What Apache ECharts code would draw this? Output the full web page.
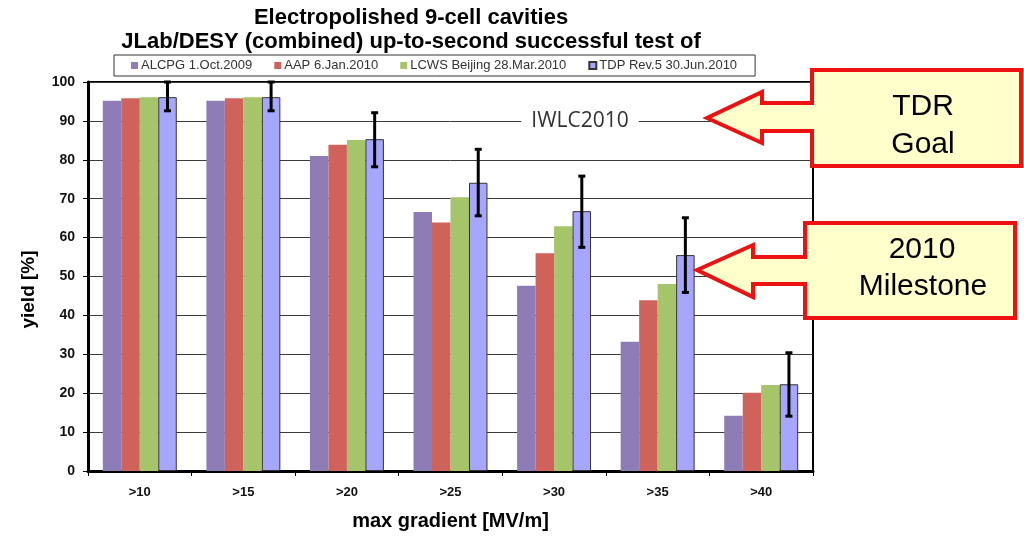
<!DOCTYPE html>
<html>
<head>
<meta charset="utf-8">
<title>Electropolished 9-cell cavities</title>
<script src="https://cdn.jsdelivr.net/npm/echarts@6/dist/echarts.min.js"></script>
<style>
  html, body { margin: 0; padding: 0; background: #fff; }
  #chart { width: 1024px; height: 539px; }
</style>
</head>
<body>
<div id="chart"></div>
<script>
// data
var categories = ['>10', '>15', '>20', '>25', '>30', '>35', '>40'];
var seriesNames = ['ALCPG 1.Oct.2009', 'AAP 6.Jan.2010', 'LCWS Beijing 28.Mar.2010', 'TDP Rev.5 30.Jun.2010'];
var alcpg = [95.2, 95.2, 81.0, 66.6, 47.6, 33.2, 14.2];
var aap   = [95.8, 95.8, 83.9, 63.9, 56.0, 43.9, 20.1];
var lcws  = [96.1, 96.1, 85.1, 70.4, 62.9, 48.1, 22.1];
var tdp   = [96.1, 96.1, 85.3, 74.1, 66.8, 55.5, 22.3];
var tdpLow  = [92.6, 92.6, 78.2, 65.6, 57.5, 45.9, 14.1];
var tdpHigh = [100, 100, 92.1, 82.7, 75.8, 65.1, 30.4];
var yTicks = [0, 10, 20, 30, 40, 50, 60, 70, 80, 90, 100];

var FONT = '"Liberation Sans", Arial, sans-serif';
var CAT_GAP = 0.286;

var myChart = echarts.init(document.getElementById('chart'), null, { renderer: 'canvas' });

var errData = categories.map(function (c, i) { return [i, tdpLow[i], tdpHigh[i]]; });

function barSeries(name, data, color, border) {
    return {
        name: name,
        type: 'bar',
        data: data,
        barGap: '0%',
        barCategoryGap: (CAT_GAP * 100) + '%',
        itemStyle: {
            color: color,
            borderColor: border ? '#333' : color,
            borderWidth: border ? 1 : 0
        },
        z: 2
    };
}

// callout shapes: box + left arrow in one outline
function callout(bx1, bx2, by1, by2, sy1, sy2, hx, hy1, hy2, tx, ty) {
    return {
        type: 'polygon',
        shape: {
            points: [[bx1, by1], [bx2, by1], [bx2, by2], [bx1, by2], [bx1, sy2], [hx, sy2],
                     [hx, hy2], [tx, ty], [hx, hy1], [hx, sy1], [bx1, sy1]]
        },
        style: { fill: '#FFFFCC', stroke: '#EE1111', lineWidth: 4, lineJoin: 'miter' },
        z: 100
    };
}

var option = {
    animation: false,
    backgroundColor: '#fff',
    title: {
        text: 'Electropolished 9-cell cavities\nJLab/DESY (combined) up-to-second successful test of',
        left: 406,
        top: 1,
        textAlign: 'center',
        textStyle: { fontFamily: FONT, fontSize: 22, fontWeight: 'bold', color: '#000', lineHeight: 24 }
    },
    legend: {
        data: seriesNames,
        left: 114,
        top: 55,
        padding: [4, 18, 4, 17],
        itemGap: 22,
        itemWidth: 7,
        itemHeight: 7,
        icon: 'rect',
        borderColor: '#333',
        borderWidth: 1,
        textStyle: { fontFamily: FONT, fontSize: 13, color: '#333', padding: [0, 0, 0, -2] }
    },
    grid: {
        left: 88,
        right: 211,
        top: 82,
        bottom: 68,
        show: true,
        borderColor: '#000',
        borderWidth: 2,
        containLabel: false
    },
    xAxis: {
        type: 'category',
        data: categories,
        name: 'max gradient [MV/m]',
        nameLocation: 'middle',
        nameGap: 40,
        nameTextStyle: { fontFamily: FONT, fontSize: 20, fontWeight: 'bold', color: '#000' },
        axisLine: { lineStyle: { color: '#000', width: 3 } },
        axisTick: { show: true, length: 5, lineStyle: { color: '#000', width: 1 } },
        axisLabel: { fontFamily: FONT, fontSize: 13, fontWeight: 'bold', color: '#111', margin: 15 }
    },
    yAxis: {
        type: 'value',
        min: yTicks[0],
        max: yTicks[yTicks.length - 1],
        interval: 10,
        name: 'yield [%]',
        nameLocation: 'middle',
        nameGap: 50,
        nameTextStyle: { fontFamily: FONT, fontSize: 19, fontWeight: 'bold', color: '#000', padding: [0, 26, 0, 0] },
        axisLine: { show: true, lineStyle: { color: '#000', width: 3 } },
        axisTick: { show: true, length: 5, lineStyle: { color: '#000', width: 1 } },
        axisLabel: { fontFamily: FONT, fontSize: 14, fontWeight: 'bold', color: '#111', margin: 13 },
        splitLine: { show: true, lineStyle: { color: '#3a3a3a', width: 1 } }
    },
    series: [
        barSeries(seriesNames[0], alcpg, '#8E7CB6', false),
        barSeries(seriesNames[1], aap, '#CF635C', false),
        barSeries(seriesNames[2], lcws, '#A6C46A', false),
        barSeries(seriesNames[3], tdp, '#A6A6FF', true),
        {
            name: 'TDP error',
            type: 'custom',
            data: errData,
            z: 5,
            renderItem: function (params, api) {
                var idx = api.value(0);
                var band = api.size([1, 0])[0];
                var barW = band * (1 - CAT_GAP) / 4;
                var cx = api.coord([idx, 0])[0] + 1.5 * barW;
                var yLo = api.coord([idx, api.value(1)])[1];
                var yHi = api.coord([idx, api.value(2)])[1];
                var cap = 3.5;
                var st = { stroke: '#000', lineWidth: 3 };
                return {
                    type: 'group',
                    children: [
                        { type: 'line', shape: { x1: cx, y1: yLo, x2: cx, y2: yHi }, style: st },
                        { type: 'line', shape: { x1: cx - cap, y1: yHi, x2: cx + cap, y2: yHi }, style: st },
                        { type: 'line', shape: { x1: cx - cap, y1: yLo, x2: cx + cap, y2: yLo }, style: st }
                    ]
                };
            }
        }
    ],
    graphic: [
        {
            type: 'text',
            x: 580,
            y: 121,
            style: {
                text: 'IWLC2010',
                fontFamily: '"Open Sans", Lato, sans-serif',
                fontSize: 21,
                fill: '#333',
                align: 'center',
                verticalAlign: 'middle',
                backgroundColor: '#fff',
                padding: [0, 10]
            },
            z: 50
        },
        callout(812, 1021, 70, 166, 103, 131, 762, 92, 143, 707, 118),
        callout(805, 1015, 223, 318, 257, 284, 753, 245, 297, 697, 270),
        {
            type: 'text', x: 923, y: 107, z: 101,
            style: { text: 'TDR', fontFamily: FONT, fontSize: 30, fill: '#000', align: 'center', verticalAlign: 'middle' }
        },
        {
            type: 'text', x: 923, y: 145, z: 101,
            style: { text: 'Goal', fontFamily: FONT, fontSize: 30, fill: '#000', align: 'center', verticalAlign: 'middle' }
        },
        {
            type: 'text', x: 922, y: 250, z: 101,
            style: { text: '2010', fontFamily: FONT, fontSize: 30, fill: '#000', align: 'center', verticalAlign: 'middle' }
        },
        {
            type: 'text', x: 923, y: 287, z: 101,
            style: { text: 'Milestone', fontFamily: FONT, fontSize: 30, fill: '#000', align: 'center', verticalAlign: 'middle' }
        }
    ]
};

myChart.setOption(option);
</script>
</body>
</html>
